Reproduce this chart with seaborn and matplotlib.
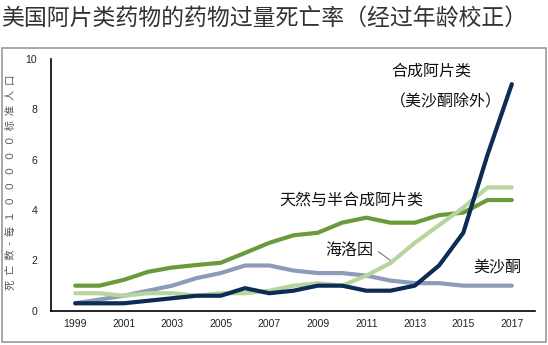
import numpy as np
import pandas as pd
import matplotlib
matplotlib.use("Agg")
import matplotlib.pyplot as plt
import seaborn as sns
from matplotlib.patches import Rectangle

years = list(range(1999, 2018))
natural = [1.0, 1.0, 1.23, 1.55, 1.72, 1.82, 1.91, 2.3, 2.7, 3.0, 3.1, 3.5, 3.7, 3.5, 3.5, 3.8, 3.9, 4.4, 4.4]
methadone = [0.3, 0.45, 0.6, 0.8, 1.0, 1.3, 1.5, 1.8, 1.8, 1.6, 1.5, 1.5, 1.4, 1.2, 1.1, 1.1, 1.0, 1.0, 1.0]
heroin = [0.7, 0.7, 0.6, 0.7, 0.7, 0.6, 0.7, 0.7, 0.8, 1.0, 1.1, 1.0, 1.4, 1.9, 2.7, 3.4, 4.1, 4.9, 4.9]
synthetic = [0.3, 0.3, 0.3, 0.4, 0.5, 0.6, 0.6, 0.9, 0.7, 0.8, 1.0, 1.0, 0.8, 0.8, 1.0, 1.8, 3.1, 6.2, 9.0]

series_names = ["天然与半合成阿片类", "美沙酮", "海洛因", "合成阿片类"]
series_values = [natural, methadone, heroin, synthetic]
colors = ["#6b9a3c", "#8c9cb8", "#b8d59d", "#0c2b55"]

x_ticks = list(range(1999, 2018, 2))
y_ticks = [0, 2, 4, 6, 8, 10]

title = "美国阿片类药物的药物过量死亡率（经过年龄校正）"
ylabel = "  ".join(list("死亡数-每１０００００标准人口"))

sns.set_style("white")
plt.rcParams['font.family'] = ['Noto Sans CJK SC', 'DejaVu Sans']

df = pd.DataFrame({
    "year": years * len(series_names),
    "value": sum(series_values, []),
    "series": sum([[n] * len(years) for n in series_names], []),
})

fig = plt.figure(figsize=(5.48, 3.45), dpi=100)
ax = fig.add_axes([0.093, 0.099, 0.883, 0.73])

sns.lineplot(data=df, x="year", y="value", hue="series", hue_order=series_names,
             palette=colors, linewidth=3.0, legend=False, ax=ax, zorder=3)

ax.set_xlim(1998.0, 2017.95)
ax.set_ylim(0, 10)
ax.set_xticks(x_ticks)
ax.set_xticklabels([str(t) for t in x_ticks], fontsize=7.5, color="#222222", family="Liberation Sans")
ax.set_yticks(y_ticks)
ax.set_yticklabels([str(t) for t in y_ticks], fontsize=7.5, color="#222222", family="Liberation Sans")
ax.tick_params(axis="both", direction="in", length=5, width=1, color="black", pad=6)
ax.tick_params(axis="y", pad=10)
for s in ["top", "right"]:
    ax.spines[s].set_visible(False)
for s in ["left", "bottom"]:
    ax.spines[s].set_color("black")
    ax.spines[s].set_linewidth(1.2)
ax.set_xlabel("")
ax.set_ylabel("")
fig.text(0.02, 0.472, ylabel, fontsize=7.5, color="#555555", rotation=90,
         ha="center", va="center")

# Annotations
fs = 11.5
ax.text(2013.7, 9.5, "合成阿片类", fontsize=fs, color="#111111", ha="center", va="center")
ax.text(2014.3, 8.3, "（美沙酮除外）", fontsize=fs, color="#111111", ha="center", va="center")
ax.text(2010.4, 4.4, "天然与半合成阿片类", fontsize=fs, color="#111111", ha="center", va="center")
ax.text(2010.3, 2.4, "海洛因", fontsize=fs, color="#111111", ha="center", va="center")
ax.plot([2011.5, 2012.0], [2.35, 2.0], color="#777777", linewidth=0.8)
ax.text(2016.4, 1.7, "美沙酮", fontsize=fs, color="#111111", ha="center", va="center")

fig.text(0.002, 0.945, title, fontsize=16.5, color="#333333", ha="left", va="center")

fig.patches.append(Rectangle((0.004, 0.008), 0.992, 0.853, transform=fig.transFigure,
                             fill=False, edgecolor="#999999", linewidth=1.2))

fig.savefig("out.png", dpi=100)
